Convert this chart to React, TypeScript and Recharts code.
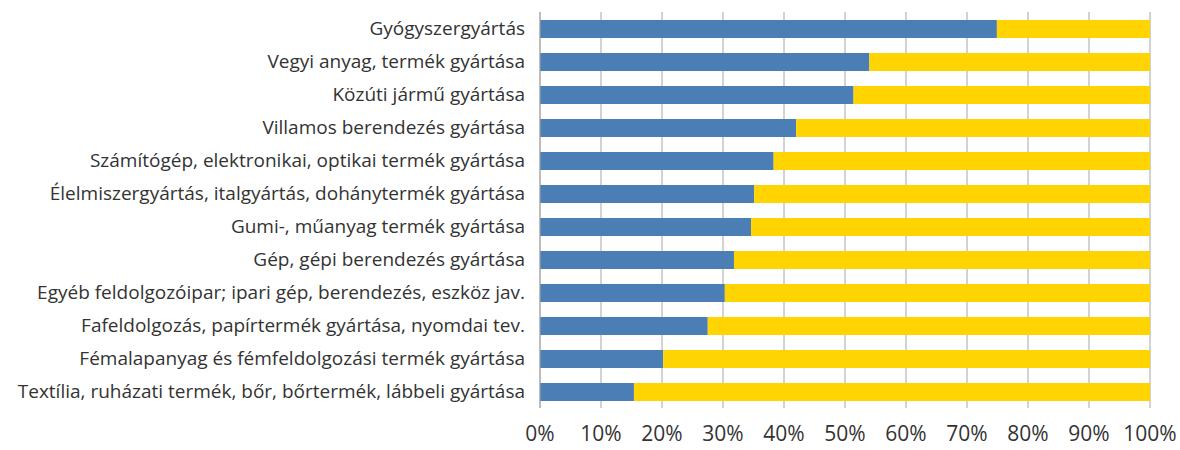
import React from 'react';
import { BarChart, Bar, XAxis, YAxis, CartesianGrid } from 'recharts';

const categories = [
  'Gyógyszergyártás',
  'Vegyi anyag, termék gyártása',
  'Közúti jármű gyártása',
  'Villamos berendezés gyártása',
  'Számítógép, elektronikai, optikai termék gyártása',
  'Élelmiszergyártás, italgyártás, dohánytermék gyártása',
  'Gumi-, műanyag termék gyártása',
  'Gép, gépi berendezés gyártása',
  'Egyéb feldolgozóipar; ipari gép, berendezés, eszköz jav.',
  'Fafeldolgozás, papírtermék gyártása, nyomdai tev.',
  'Fémalapanyag és fémfeldolgozási termék gyártása',
  'Textília, ruházati termék, bőr, bőrtermék, lábbeli gyártása',
];

// blue share in percent, the yellow part is the remainder to 100
const blueValues = [74.9, 54.0, 51.4, 42.0, 38.3, 35.1, 34.6, 31.8, 30.3, 27.5, 20.2, 15.4];
const yellowValues = [25.1, 46.0, 48.6, 58.0, 61.7, 64.9, 65.4, 68.2, 69.7, 72.5, 79.8, 84.6];

const xTicks = [0, 10, 20, 30, 40, 50, 60, 70, 80, 90, 100];

const BLUE = '#4a7eb4';
const YELLOW = '#ffd400';

const data = categories.map((name, i) => ({
  name,
  blue: blueValues[i],
  yellow: yellowValues[i],
}));

export default function App() {
  return (
    <div style={{ position: 'absolute', left: 0, top: 0, background: '#fff' }}>
      <BarChart
        width={1180}
        height={450}
        data={data}
        layout="vertical"
        margin={{ top: 12, right: 30, bottom: 10, left: 0 }}
        barSize={18}
      >
        <CartesianGrid horizontal={false} stroke="#a6a6a6" />
        <XAxis
          type="number"
          domain={[0, 100]}
          ticks={xTicks}
          tickFormatter={(v: number) => `${v}%`}
          axisLine={false}
          tickLine={false}
          tickMargin={12}
          height={32}
          tick={{ fill: '#333', fontSize: 21, fontFamily: 'Open Sans' }}
        />
        <YAxis
          type="category"
          dataKey="name"
          width={540}
          axisLine={{ stroke: '#a6a6a6' }}
          tickLine={false}
          tickSize={0}
          tickMargin={15}
          interval={0}
          tick={{ fill: '#333', fontSize: 19, fontFamily: 'Open Sans' }}
        />
        <Bar dataKey="blue" stackId="a" fill={BLUE} isAnimationActive={false} />
        <Bar dataKey="yellow" stackId="a" fill={YELLOW} isAnimationActive={false} />
      </BarChart>
    </div>
  );
}
